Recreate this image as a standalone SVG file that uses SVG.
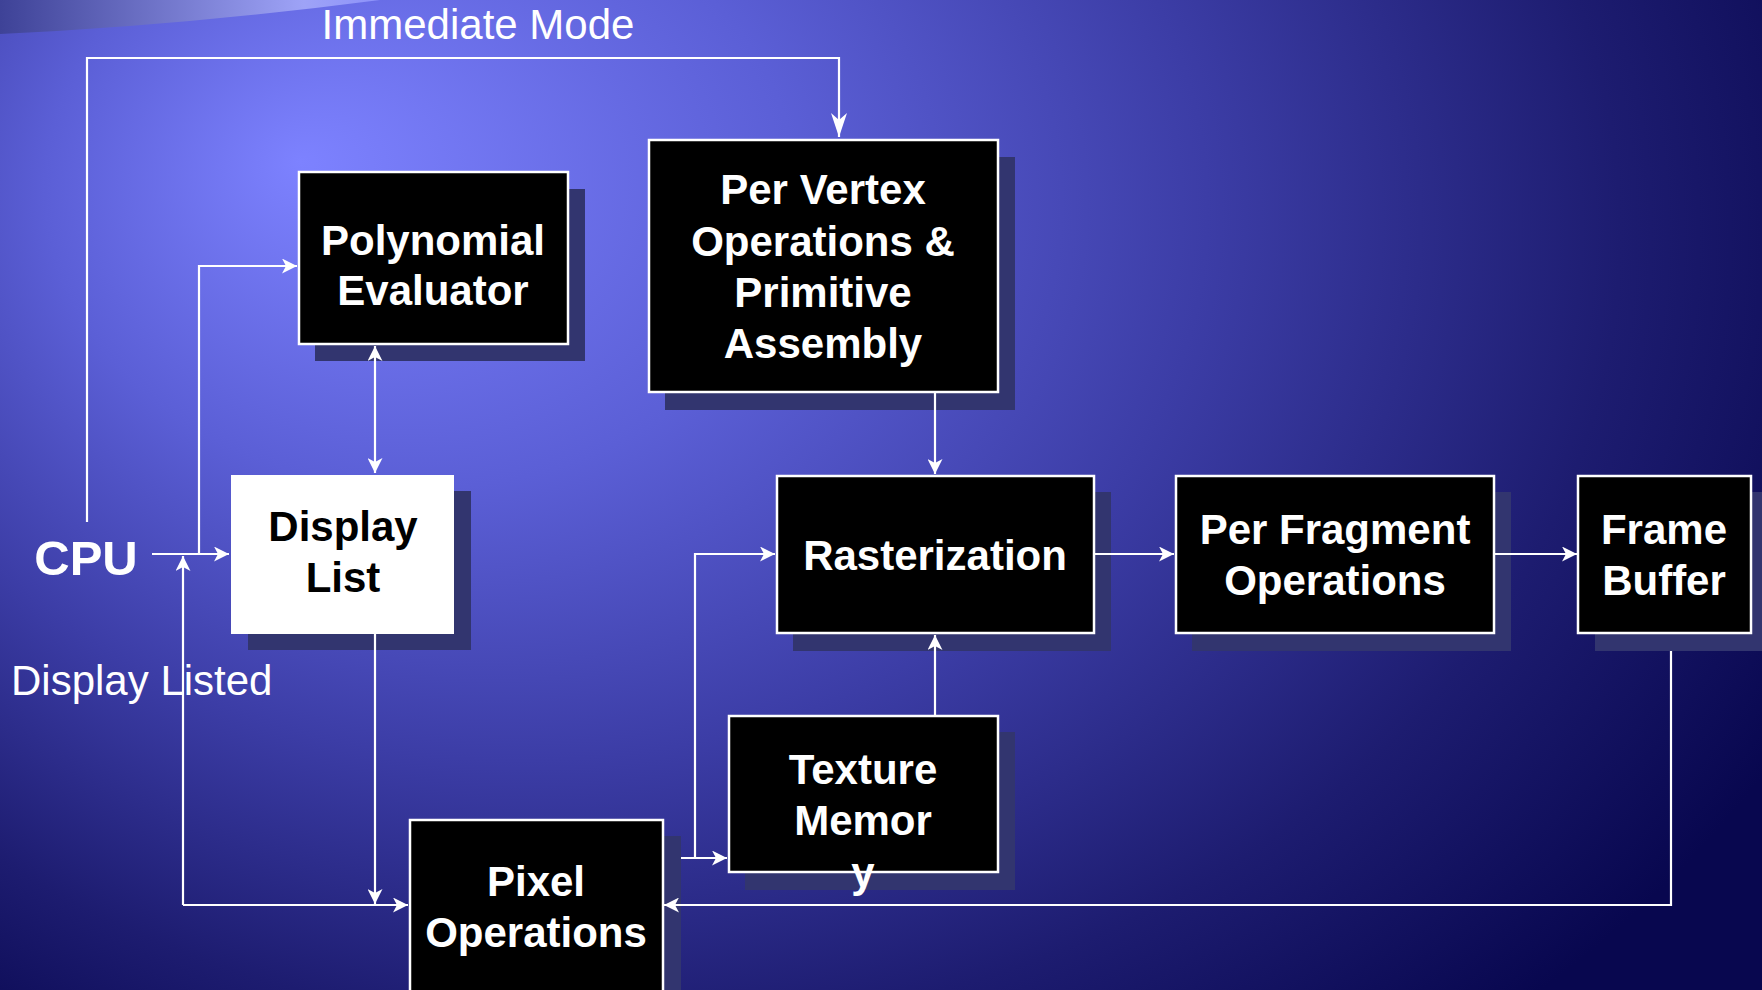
<svg xmlns="http://www.w3.org/2000/svg" width="1762" height="990" viewBox="0 0 1762 990">
<defs>
<radialGradient id="bg" gradientUnits="userSpaceOnUse" cx="700" cy="250" r="1250" fx="300" fy="140" gradientTransform="translate(0,50) scale(1,0.8)">
<stop offset="0" stop-color="#7d82ff"/>
<stop offset="0.3" stop-color="#5b5fd6"/>
<stop offset="0.55" stop-color="#3c3da6"/>
<stop offset="0.8" stop-color="#1d1c70"/>
<stop offset="1" stop-color="#08074f"/>
</radialGradient>
<linearGradient id="arc" x1="0" y1="0" x2="1" y2="0">
<stop offset="0" stop-color="#3e4297"/>
<stop offset="0.8" stop-color="#9ea3f7"/>
<stop offset="1" stop-color="#8d92fa"/>
</linearGradient>
<marker id="ah" viewBox="0 0 15 15" markerWidth="15" markerHeight="15" refX="15" refY="7.5" orient="auto-start-reverse" markerUnits="userSpaceOnUse">
<path d="M0,0 L15,7.5 L0,15 L4,7.5 Z" fill="#fff"/>
</marker>
<marker id="ahl" viewBox="0 0 24 16" markerWidth="24" markerHeight="16" refX="24" refY="8" orient="auto" markerUnits="userSpaceOnUse">
<path d="M0,0 L24,8 L0,16 L7,8 Z" fill="#fff"/>
</marker>
</defs>
<style>
.sh{fill:#32356f}
.bx{fill:#000;stroke:#fff;stroke-width:2.5}
.wb{fill:#fff}
.t{font-family:"Liberation Sans",Arial,sans-serif;font-weight:bold;font-size:42px;fill:#fff;text-anchor:middle}
.tb{fill:#000}
.lbl{font-family:"Liberation Sans",Arial,sans-serif;font-size:42px;fill:#fff}
.cpu{font-family:"Liberation Sans",Arial,sans-serif;font-size:49px;font-weight:bold;fill:#fff;text-anchor:middle}
.c{fill:none;stroke:#fff;stroke-width:2.2}
</style>
<rect width="1762" height="990" fill="url(#bg)"/>
<path d="M0,0 L0,34 Q180,26 380,0 Z" fill="url(#arc)"/>
<text class="lbl" x="478" y="39" text-anchor="middle">Immediate Mode</text>
<text class="lbl" x="11" y="695">Display Listed</text>
<text class="cpu" x="86" y="575">CPU</text>

<g id="poly">
<rect class="sh" x="315" y="189" width="270" height="172"/>
<rect class="bx" x="299" y="172" width="269" height="172"/>
<text class="t" x="433" y="255">Polynomial</text>
<text class="t" x="433" y="305">Evaluator</text>
</g>
<g id="pervertex">
<rect class="sh" x="665" y="157" width="350" height="253"/>
<rect class="bx" x="649" y="140" width="349" height="252"/>
<text class="t" x="823" y="204">Per Vertex</text>
<text class="t" x="823" y="256">Operations &amp;</text>
<text class="t" x="823" y="307">Primitive</text>
<text class="t" x="823" y="358">Assembly</text>
</g>
<g id="displaylist">
<rect class="sh" x="248" y="491" width="223" height="159"/>
<rect class="wb" x="231" y="475" width="223" height="159"/>
<text class="t tb" x="343" y="541">Display</text>
<text class="t tb" x="343" y="592">List</text>
</g>
<g id="raster">
<rect class="sh" x="793" y="492" width="318" height="159"/>
<rect class="bx" x="777" y="476" width="317" height="157"/>
<text class="t" x="935" y="570">Rasterization</text>
</g>
<g id="perfrag">
<rect class="sh" x="1192" y="492" width="319" height="159"/>
<rect class="bx" x="1176" y="476" width="318" height="157"/>
<text class="t" x="1335" y="544">Per Fragment</text>
<text class="t" x="1335" y="595">Operations</text>
</g>
<g id="framebuffer">
<rect class="sh" x="1595" y="492" width="173" height="159"/>
<rect class="bx" x="1578" y="476" width="173" height="157"/>
<text class="t" x="1664" y="544">Frame</text>
<text class="t" x="1664" y="595">Buffer</text>
</g>
<g id="texture">
<rect class="sh" x="745" y="732" width="270" height="158"/>
<rect class="bx" x="729" y="716" width="269" height="156"/>
<text class="t" x="863" y="784">Texture</text>
<text class="t" x="863" y="835">Memor</text>
<text class="t" x="863" y="887">y</text>
</g>
<g id="pixel">
<rect class="sh" x="426" y="836" width="255" height="170"/>
<rect class="bx" x="410" y="820" width="253" height="180"/>
<text class="t" x="536" y="896">Pixel</text>
<text class="t" x="536" y="947">Operations</text>
</g>

<g id="connectors">
<path class="c" d="M87,522 V58 H839 V137" marker-end="url(#ahl)"/>
<path class="c" d="M152,554 H229" marker-end="url(#ah)"/>
<path class="c" d="M199,554 V266 H297" marker-end="url(#ah)"/>
<path class="c" d="M375,346 V473" marker-start="url(#ah)" marker-end="url(#ah)"/>
<path class="c" d="M375,634 V904" marker-end="url(#ah)"/>
<path class="c" d="M183,905 V556" marker-end="url(#ah)"/>
<path class="c" d="M183,905 H408" marker-end="url(#ah)"/>
<path class="c" d="M681,858 H727" marker-end="url(#ah)"/>
<path class="c" d="M695,858 V554 H775" marker-end="url(#ah)"/>
<path class="c" d="M935,393 V474" marker-end="url(#ah)"/>
<path class="c" d="M935,715 V635" marker-end="url(#ah)"/>
<path class="c" d="M1095,554 H1174" marker-end="url(#ah)"/>
<path class="c" d="M1495,554 H1577" marker-end="url(#ah)"/>
<path class="c" d="M1671,651 V905 H664" marker-end="url(#ah)"/>
</g>
</svg>
